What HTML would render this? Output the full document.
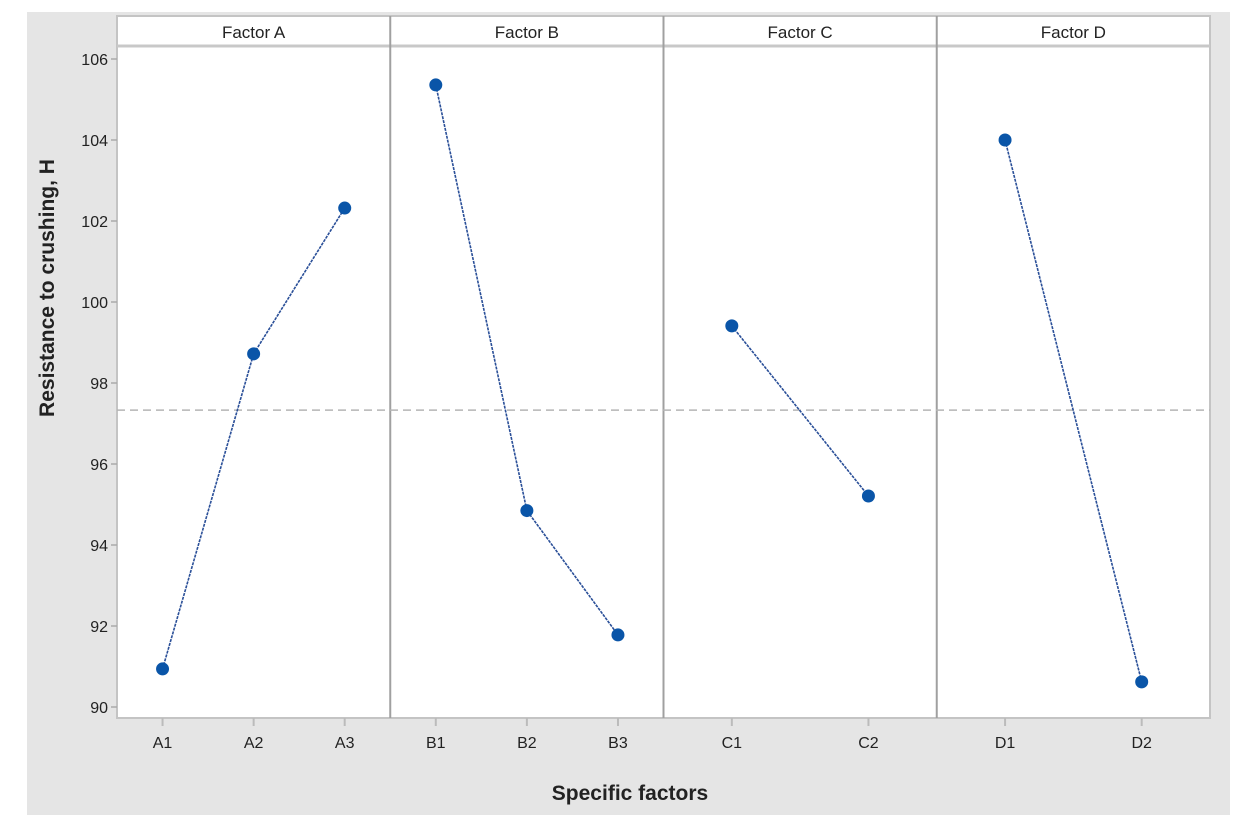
<!DOCTYPE html>
<html><head><meta charset="utf-8"><style>
body{margin:0;background:#fff;width:1243px;height:830px;overflow:hidden}
svg{display:block;font-family:"Liberation Sans",sans-serif}
</style></head><body>
<svg id="chart" width="1243" height="830">
<rect x="27" y="12" width="1203" height="803" fill="#e5e5e5"/>
<g id="g"></g>
</svg>
<script>
const factorNames=["Factor A","Factor B","Factor C","Factor D"];
const levelLabels=[["A1","A2","A3"],["B1","B2","B3"],["C1","C2"],["D1","D2"]];
const meansA=[90.94,98.72,102.32];
const meansB=[105.36,94.85,91.78];
const meansC=[99.41,95.21];
const meansD=[104.0,90.62];
const grandMean=97.33;
const yTicks=[90,92,94,96,98,100,102,104,106];
const series=[meansA,meansB,meansC,meansD];
const NS="http://www.w3.org/2000/svg";
const g=document.getElementById('g');
const L=117,R=1210,T=16,HB=46,B=718,PW=(R-L)/4;
function y(v){return 707-(v-90)*40.5;}
function px(p,i,n){return L+p*PW+PW*(n==3?(i+0.5)/3:(i*2+1)/4);}
function el(t,a,txt){const e=document.createElementNS(NS,t);for(const k in a)e.setAttribute(k,a[k]);if(txt!=null)e.textContent=txt;g.appendChild(e);return e;}
let e=el('rect',{x:L,y:T,width:R-L,height:B-T,fill:'#fff',stroke:'#c4c4c4','stroke-width':2});

e=el('line',{x1:L,x2:R,y1:HB,y2:HB,stroke:'#c8c8c8','stroke-width':3});

for(let p=1;p<4;p++){e=el('line',{x1:L+p*PW,x2:L+p*PW,y1:T,y2:B,stroke:'#a0a0a0','stroke-width':2});
}
yTicks.forEach(v=>{e=el('line',{x1:L-6,x2:L,y1:y(v),y2:y(v),stroke:'#aaa','stroke-width':1.5});

e=el('text',{x:L-9,y:y(v)+6,'text-anchor':'end','font-size':16,fill:'#222'},v);
});
e=el('line',{x1:L,x2:R,y1:y(grandMean),y2:y(grandMean),stroke:'#b5b5b5','stroke-width':1.5,'stroke-dasharray':'8,5'});

factorNames.forEach((f,p)=>{
e=el('text',{x:L+p*PW+PW/2,y:38,'text-anchor':'middle','font-size':17,fill:'#222'},f);

const vals=series[p],n=vals.length;
const pts=vals.map((v,i)=>px(p,i,n)+','+y(v)).join(' ');
e=el('polyline',{points:pts,fill:'none',stroke:'#2a4f98','stroke-width':1.6,'stroke-dasharray':'3,1'});

vals.forEach((v,i)=>{
e=el('circle',{cx:px(p,i,n),cy:y(v),r:6.5,fill:'#0a55a8'});

e=el('line',{x1:px(p,i,n),x2:px(p,i,n),y1:B,y2:B+8,stroke:'#bbb','stroke-width':2});

e=el('text',{x:px(p,i,n),y:B+30,'text-anchor':'middle','font-size':16,fill:'#222'},levelLabels[p][i]);
});});
e=el('text',{x:630,y:800,'text-anchor':'middle','font-size':21,'font-weight':'bold',fill:'#222'},'Specific factors');

e=el('text',{x:0,y:0,'text-anchor':'middle','font-size':21,'font-weight':'bold',fill:'#222',transform:'translate(54,288) rotate(-90)'},'Resistance to crushing, H');

</script>
</body></html>
